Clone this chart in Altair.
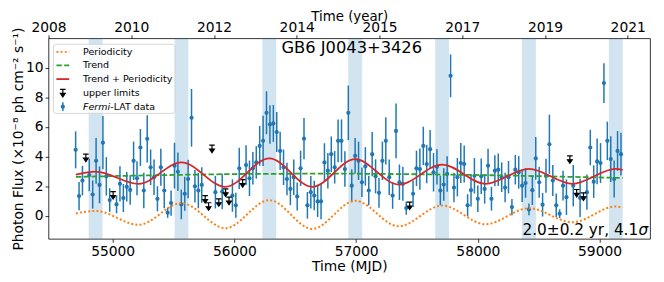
import json
import altair as alt
import pandas as pd

# ---------------- data ----------------
det_mjd = [54696, 54724, 54752, 54808, 54836, 54864, 54892, 54920, 54948, 54976,
           55032, 55060, 55088, 55116, 55144, 55172, 55200, 55228, 55256, 55284,
           55312, 55340, 55368, 55396, 55424, 55452, 55480, 55508, 55536, 55564,
           55592, 55620, 55648, 55676, 55704, 55732, 55844, 55900, 55984, 56012,
           56040, 56096, 56124, 56152, 56180, 56208, 56236, 56264, 56292, 56320,
           56348, 56376, 56404, 56432, 56460, 56488, 56516, 56544, 56572, 56600,
           56628, 56656, 56684, 56712, 56740, 56768, 56796, 56824, 56852, 56880,
           56908, 56936, 56964, 56992, 57020, 57048, 57076, 57104, 57132, 57160,
           57188, 57216, 57244, 57272, 57300, 57328, 57356, 57384, 57412, 57468,
           57496, 57524, 57552, 57580, 57608, 57636, 57664, 57692, 57720, 57748,
           57776, 57804, 57832, 57860, 57888, 57916, 57944, 57972, 58000, 58028,
           58056, 58084, 58112, 58140, 58168, 58196, 58224, 58252, 58280, 58308,
           58336, 58364, 58392, 58420, 58448, 58476, 58504, 58532, 58560, 58588,
           58616, 58644, 58672, 58700, 58728, 58784, 58840, 58896, 58924, 58952,
           58980, 59008, 59036, 59064, 59092, 59120, 59148, 59176]
det_flux = [4.45, 1.32, 2.37, 2.75, 1.43, 3.71, 2.08, 4.94, 2.66, 1.05,
            0.76, 2.15, 1.19, 1.95, 1.74, 3.71, 2.53, 4.61, 1.70, 5.20,
            3.27, 2.60, 1.14, 3.27, 1.70, 0.20, 0.85, 3.38, 2.97, 0.76,
            1.48, 2.48, 6.62, 1.99, 1.70, 2.08, 1.59, 1.63, 1.36, 0.70,
            3.20, 3.42, 2.53, 3.20, 3.60, 4.72, 5.06, 6.96, 6.17, 6.24,
            5.66, 4.38, 3.27, 2.48, 1.81, 2.60, 1.30, 3.20, 5.21, 0.70,
            1.59, 1.36, 0.96, 0.96, 3.60, 3.04, 4.16, 3.27, 5.06, 5.06,
            3.15, 6.96, 2.03, 4.05, 3.71, 2.26, 3.33, 1.70, 4.16, 2.66,
            1.54, 3.71, 5.06, 2.60, 1.36, 5.73, 2.26, 2.15, 0.51, 1.48,
            3.20, 3.15, 4.72, 3.49, 4.50, 2.93, 3.30, 1.70, 2.10, 2.82,
            9.46, 1.90, 2.60, 3.56, 3.49, 0.70, 1.72, 2.70, 1.14, 2.66,
            1.81, 3.38, 1.14, 3.04, 3.11, 2.60, 1.90, 2.60, 0.58, 3.11,
            2.93, 2.03, 2.21, 0.42, 1.72, 3.87, 2.26, 0.74, 2.70, 4.83,
            2.37, 0.70, 0.13, 2.03, 1.25, 2.03, 1.20, 1.59, 4.61, 2.30,
            3.67, 3.56, 8.97, 5.06, 3.83, 2.48, 4.38, 4.16]
det_err = [1.25, 0.95, 1.00, 1.10, 0.95, 1.55, 1.25, 1.80, 1.30, 0.80,
           0.60, 1.20, 0.95, 1.00, 1.00, 1.30, 1.15, 1.25, 1.20, 1.60,
           1.20, 1.20, 0.85, 1.25, 1.20, 0.35, 0.85, 1.55, 1.30, 1.00,
           1.15, 1.30, 1.95, 1.10, 1.20, 1.20, 1.10, 1.20, 1.10, 0.85,
           1.40, 1.35, 1.20, 1.10, 1.10, 1.35, 1.70, 1.45, 1.30, 1.25,
           1.35, 1.30, 1.20, 1.10, 1.10, 1.20, 0.95, 1.20, 1.40, 0.90,
           1.10, 1.00, 1.05, 1.20, 1.30, 1.20, 1.20, 1.10, 1.45, 1.45,
           1.20, 1.85, 1.10, 1.20, 1.30, 1.00, 1.30, 1.00, 1.50, 1.15,
           1.00, 1.30, 1.60, 1.20, 0.90, 1.85, 1.20, 1.15, 0.45, 0.90,
           1.20, 1.40, 1.30, 1.30, 1.30, 1.30, 1.20, 1.00, 1.10, 1.20,
           1.45, 1.00, 1.30, 1.35, 1.25, 0.75, 1.10, 1.20, 0.90, 1.20,
           1.00, 1.15, 0.80, 1.05, 1.10, 1.00, 1.00, 1.10, 0.55, 1.00,
           1.10, 1.10, 1.00, 0.40, 1.00, 1.45, 1.05, 0.80, 1.15, 2.00,
           1.05, 0.80, 0.30, 1.00, 1.20, 1.40, 1.30, 1.20, 1.20, 1.10,
           1.55, 1.35, 1.35, 1.30, 1.55, 1.25, 1.35, 1.45]

ul_mjd = [54780, 55004, 55760, 55788, 55816, 55872, 55928, 55956, 56068,
          57440, 58756, 58812, 58868]
ul_flux = [4.16, 1.63, 1.36, 0.87, 4.77, 1.14, 1.81, 1.25, 2.44,
           0.92, 4.05, 1.77, 1.54]

band_start = [54803, 55509, 56230, 56936, 57650, 58363, 59077]
band_end = [54917, 55622, 56344, 57050, 57763, 58477, 59190]

curve_mjd = [54698, 54860, 55213, 55566, 55926, 56287, 56640, 56993, 57350,
             57707, 58063, 58420, 58777, 59133, 59190]
periodicity = [0.15, 0.32, -0.62, 0.85, -0.85, 1.05, -0.90, 1.00, -0.72,
               0.68, -0.58, 0.50, -0.45, 0.62, 0.55]
trend_plus_per = [2.78, 2.98, 2.15, 3.60, 1.95, 3.88, 1.95, 3.82, 2.10,
                  3.45, 2.15, 3.17, 2.15, 3.17, 3.10]
trend_mjd = [54698, 55400, 56100, 56800, 57500, 58200, 58900, 59190]
trend = [2.62, 2.74, 2.82, 2.84, 2.80, 2.72, 2.60, 2.55]

mjd_ticks = [55000, 56000, 57000, 58000, 59000]
flux_ticks = [0, 2, 4, 6, 8, 10]
year_tick_mjd = [54473, 55153, 55833, 56512, 57192, 57872, 58552, 59231]
year_labels = ["2008", "2010", "2012", "2014", "2015", "2017", "2019", "2021"]

legend_labels = ["Periodicity", "Trend", "Trend + Periodicity", "upper limits"]

# ---------------- styling ----------------
W, H = 609, 203
FONT = "DejaVu Sans"
BLUE = "#1f77b4"
ORANGE = "#ff7f0e"
GREEN = "#2ca02c"
RED = "#d62728"
LFS = 9.6  # legend font size

xs = alt.Scale(domain=[54473, 59415], nice=False, zero=False)
ys = alt.Scale(domain=[-1.57, 12.0], nice=False, zero=False)

det = pd.DataFrame({"mjd": det_mjd, "flux": det_flux, "err": det_err})
ul = pd.DataFrame({"mjd": ul_mjd, "flux": ul_flux})
bands = pd.DataFrame({"start": band_start, "end": band_end})
curves = pd.DataFrame({"mjd": curve_mjd, "per": periodicity, "tp": trend_plus_per})
trend_df = pd.DataFrame({"mjd": trend_mjd, "trend": trend})

year_expr = "{}[indexof({}, datum.value)]".format(json.dumps(year_labels), json.dumps(year_tick_mjd))

top_axis = alt.Axis(orient="top", values=year_tick_mjd, labelExpr=year_expr,
                    title="Time (year)", labelFlush=False, labelOverlap=False,
                    labelPadding=0, titleY=-18, titleBaseline="alphabetic",
                    titleFontSize=13.5)
bottom_axis = alt.Axis(orient="bottom", values=mjd_ticks, format="d",
                       title="Time (MJD)", labelFlush=False, labelOverlap=False,
                       labelPadding=2, titlePadding=2)
y_axis = alt.Axis(orient="left", values=flux_ticks, title="Photon Flux  (×10⁻⁸ ph cm⁻² s⁻¹)",
                  labelPadding=2, titlePadding=0)

bands_layer = alt.Chart(bands).mark_rect(color=BLUE, opacity=0.2).encode(
    x=alt.X("start:Q", scale=xs, axis=top_axis),
    x2="end:Q",
)

err_layer = alt.Chart(det).transform_calculate(
    lo="datum.flux - datum.err", hi="datum.flux + datum.err"
).mark_rule(color=BLUE, strokeWidth=1.5).encode(
    x=alt.X("mjd:Q", scale=xs, axis=bottom_axis),
    y=alt.Y("lo:Q", scale=ys, axis=y_axis),
    y2="hi:Q",
)

pts_layer = alt.Chart(det).mark_point(filled=True, color=BLUE, size=18, opacity=1).encode(
    x=alt.X("mjd:Q", scale=xs, axis=None),
    y=alt.Y("flux:Q", scale=ys, axis=None),
)

UL_PATH = "M-0.7,0H0.7M0,0V1.2M-0.6,1.0L0.6,1.0L0,1.9Z"
ul_layer = alt.Chart(ul).mark_point(shape=UL_PATH, filled=True, color="black",
                                    stroke="black", strokeWidth=1.2, size=64, opacity=1).encode(
    x=alt.X("mjd:Q", scale=xs, axis=None),
    y=alt.Y("flux:Q", scale=ys, axis=None),
)

per_layer = alt.Chart(curves).mark_line(color=ORANGE, strokeDash=[2, 2.2], strokeWidth=2,
                                        interpolate="monotone").encode(
    x=alt.X("mjd:Q", scale=xs, axis=None),
    y=alt.Y("per:Q", scale=ys, axis=None),
)
trend_layer = alt.Chart(trend_df).mark_line(color=GREEN, strokeDash=[5.5, 2.4], strokeWidth=1.8,
                                            interpolate="monotone").encode(
    x=alt.X("mjd:Q", scale=xs, axis=None),
    y=alt.Y("trend:Q", scale=ys, axis=None),
)
tp_layer = alt.Chart(curves).mark_line(color=RED, strokeWidth=1.8, interpolate="monotone").encode(
    x=alt.X("mjd:Q", scale=xs, axis=None),
    y=alt.Y("tp:Q", scale=ys, axis=None),
)

# ---------------- legend (pixel layout) ----------------
box = pd.DataFrame({"x": [5], "x2": [128], "y": [6], "y2": [76]})
legend_box = alt.Chart(box).mark_rect(fill="white", fillOpacity=0.8, stroke="#cccccc",
                                      strokeWidth=0.8, cornerRadius=3).encode(
    x=alt.X("x:Q", scale=None), x2="x2:Q", y=alt.Y("y:Q", scale=None), y2="y2:Q")

rows = [13.7, 27.5, 41.3, 55.2, 69.2]
leg_lines = pd.DataFrame({"x": [8, 8, 8], "x2": [21, 21, 21], "y": rows[:3],
                          "k": ["p", "t", "tp"]})


def leg_line(k, color, dash):
    m = dict(color=color, strokeWidth=1.8)
    if dash:
        m["strokeDash"] = dash
    return alt.Chart(leg_lines).transform_filter(alt.datum.k == k).mark_rule(**m).encode(
        x=alt.X("x:Q", scale=None), x2="x2:Q", y=alt.Y("y:Q", scale=None))


leg_text = pd.DataFrame({"x": [35] * 4, "y": rows[:4], "t": legend_labels})
legend_txt = alt.Chart(leg_text).mark_text(align="left", baseline="middle", font=FONT,
                                           fontSize=LFS, color="black").encode(
    x=alt.X("x:Q", scale=None), y=alt.Y("y:Q", scale=None), text="t:N")
fermi_df = pd.DataFrame({"x": [35], "x2": [62.5], "y": [rows[4]], "a": ["Fermi"], "b": ["-LAT data"]})
fermi_a = alt.Chart(fermi_df).mark_text(align="left", baseline="middle", font=FONT, fontSize=LFS,
                                        fontStyle="italic", color="black").encode(
    x=alt.X("x:Q", scale=None), y=alt.Y("y:Q", scale=None), text="a:N")
fermi_b = alt.Chart(fermi_df).mark_text(align="left", baseline="middle", font=FONT, fontSize=LFS,
                                        color="black").encode(
    x=alt.X("x2:Q", scale=None), y=alt.Y("y:Q", scale=None), text="b:N")

sym = pd.DataFrame({"x": [14.5], "yu": [rows[3] - 3.5], "yf": [rows[4]],
                    "y1": [rows[4] - 4.5], "y2": [rows[4] + 4.5]})
leg_ul = alt.Chart(sym).mark_point(shape=UL_PATH, filled=True, color="black", stroke="black",
                                   strokeWidth=1.2, size=64, opacity=1).encode(
    x=alt.X("x:Q", scale=None), y=alt.Y("yu:Q", scale=None))
leg_bar = alt.Chart(sym).mark_rule(color=BLUE, strokeWidth=1.5).encode(
    x=alt.X("x:Q", scale=None), y=alt.Y("y1:Q", scale=None), y2="y2:Q")
leg_dot = alt.Chart(sym).mark_point(filled=True, color=BLUE, size=18, opacity=1).encode(
    x=alt.X("x:Q", scale=None), y=alt.Y("yf:Q", scale=None))

# ---------------- annotations ----------------
ann = pd.DataFrame({"x": [307], "y": [10], "t": ["GB6 J0043+3426"]})
title_txt = alt.Chart(ann).mark_text(align="center", baseline="middle", font=FONT, fontSize=16.5,
                                     color="black").encode(
    x=alt.X("x:Q", scale=None), y=alt.Y("y:Q", scale=None), text="t:N")
res = pd.DataFrame({"x": [597], "xs": [607], "y": [199], "t": ["2.0±0.2 yr, 4.1"], "s": ["σ"]})
res_txt = alt.Chart(res).mark_text(align="right", baseline="alphabetic", font=FONT, fontSize=15.5,
                                   color="black").encode(
    x=alt.X("x:Q", scale=None), y=alt.Y("y:Q", scale=None), text="t:N")
res_sig = alt.Chart(res).mark_text(align="right", baseline="alphabetic", font=FONT, fontSize=15.5,
                                   fontStyle="italic", color="black").encode(
    x=alt.X("xs:Q", scale=None), y=alt.Y("y:Q", scale=None), text="s:N")

chart = alt.layer(
    bands_layer, err_layer, pts_layer, ul_layer, per_layer, trend_layer, tp_layer,
    legend_box,
    leg_line("p", ORANGE, [2, 2.2]), leg_line("t", GREEN, [5.5, 2.4]), leg_line("tp", RED, None),
    leg_ul, leg_bar, leg_dot, legend_txt, fermi_a, fermi_b,
    title_txt, res_txt, res_sig,
).resolve_axis(x="independent", y="independent").properties(
    width=W, height=H,
    padding={"left": 41, "top": 29, "right": 6, "bottom": 40},
    autosize=alt.AutoSizeParams(type="none"),
).configure_view(
    stroke="black", strokeWidth=0.8
).configure_axis(
    labelFont=FONT, titleFont=FONT, labelFontSize=14, titleFontSize=14,
    titleFontWeight="normal", labelColor="black", titleColor="black",
    tickColor="black", domain=False, tickWidth=0.8, tickSize=3.5, grid=False,
)

chart.save("out.html", embed_options={"renderer": "svg", "actions": False})
